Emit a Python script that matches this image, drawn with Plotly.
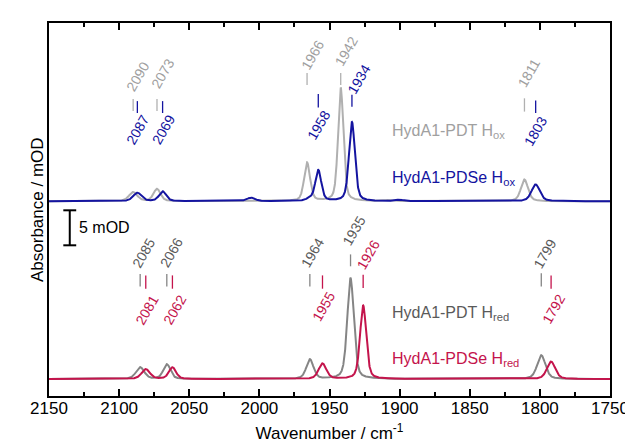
import numpy as np
import plotly.graph_objects as go

# ---------------- data ----------------
# peak positions (cm-1), heights (mOD), FWHM (cm-1)
pdt_ox_pos = [2090, 2073, 1966, 1942, 1908, 1811]
pdt_ox_amp = [1.3, 1.75, 5.5, 16.2, 0.15, 3.1]
pdt_ox_wid = [7, 6, 5, 4.5, 6, 6]

pdse_ox_pos = [2087, 2069, 2006, 1964, 1958, 1934, 1900, 1803]
pdse_ox_amp = [1.2, 1.4, 0.5, 0.3, 4.4, 11.3, 0.2, 2.4]
pdse_ox_wid = [7, 6, 7, 6, 5, 5, 6, 7]

pdt_red_pos = [2085, 2066, 1964, 1935, 1799]
pdt_red_amp = [1.67, 2.1, 2.8, 14.4, 3.4]
pdt_red_wid = [7, 6, 6, 5.5, 7]

pdse_red_pos = [2081, 2062, 1955, 1926, 1792]
pdse_red_amp = [1.4, 1.67, 2.2, 10.5, 2.5]
pdse_red_wid = [7, 6, 6.5, 5.2, 7]

ox_offset = 25.4   # vertical offset of the Hox spectra (mOD)
red_offset = 0.0

# peak labels: wavenumber, label position (mOD), marker bottom/top (mOD), x shift px
pdt_ox_lab = [2090, 2073, 1966, 1942, 1811]
pdt_ox_lab_y = [43.2, 43.7, 46.3, 46.8, 43.7]
pdt_ox_tick = [(38.3, 40.0), (38.3, 40.0), (42.0, 43.7), (42.0, 43.7), (38.2, 40.1)]
pdt_ox_dx = [4, 6, 5.5, 6, 4.5]

pdse_ox_lab = [2087, 2069, 1958, 1934, 1803]
pdse_ox_lab_y = [35.6, 35.6, 36.3, 42.9, 35.4]
pdse_ox_tick = [(38.0, 39.7), (38.0, 39.7), (38.8, 40.7), (38.9, 40.6), (38.0, 39.8)]
pdse_ox_dx = [0, 0.5, 0.5, 7, 0]

pdt_red_lab = [2085, 2066, 1964, 1935, 1799]
pdt_red_lab_y = [18.0, 18.0, 18.0, 21.2, 17.9]
pdt_red_tick = [(13.2, 15.0), (13.2, 15.0), (13.2, 15.0), (16.1, 17.8), (13.2, 15.1)]
pdt_red_dx = [3.5, 4.3, 2.5, 3, 3.3]

pdse_red_lab = [2081, 2062, 1955, 1926, 1792]
pdse_red_lab_y = [9.9, 9.9, 10.4, 17.7, 10.0]
pdse_red_tick = [(12.9, 14.8), (12.9, 14.8), (12.9, 14.8), (13.0, 14.9), (12.9, 14.8)]
pdse_red_dx = [1, 2, 1.5, 5, 2.5]

series_names = ["HydA1-PDT H<sub>ox</sub>", "HydA1-PDSe H<sub>ox</sub>",
                "HydA1-PDT H<sub>red</sub>", "HydA1-PDSe H<sub>red</sub>"]
series_label_x = [1907, 1907, 1907, 1907]
series_label_y = [35.3, 28.7, 9.3, 2.8]

scale_bar_x = 2135.2
scale_bar_y0 = 19.1
scale_bar_len = 5.0

x_ticks = [2150, 2100, 2050, 2000, 1950, 1900, 1850, 1800, 1750]

# ---------------- styles ----------------
C_GRAY_OX = "#b0b0b0"
C_BLUE = "#1414a0"
C_GRAY_RED = "#858585"
C_GRAY_RED_TXT = "#5a5a5a"
C_RED = "#c4144c"
FONT = "Liberation Sans, Arial, Helvetica, sans-serif"

wn = np.linspace(2150, 1750, 4001)


def spectrum(pos, amp, wid, offset):
    y = np.zeros_like(wn)
    for p, a, w in zip(pos, amp, wid):
        s = w / 2.3548
        g = np.exp(-0.5 * ((wn - p) / s) ** 2)
        l = 1.0 / (1.0 + ((wn - p) / (w / 2)) ** 2)
        y += a * (0.6 * g + 0.4 * l)
    return y + offset


fig = go.Figure()

for pos, amp, wid, off, col in [
    (pdt_ox_pos, pdt_ox_amp, pdt_ox_wid, ox_offset, C_GRAY_OX),
    (pdse_ox_pos, pdse_ox_amp, pdse_ox_wid, ox_offset, C_BLUE),
    (pdt_red_pos, pdt_red_amp, pdt_red_wid, red_offset, C_GRAY_RED),
    (pdse_red_pos, pdse_red_amp, pdse_red_wid, red_offset, C_RED),
]:
    fig.add_trace(go.Scatter(x=wn, y=spectrum(pos, amp, wid, off), mode="lines",
                             line=dict(color=col, width=2), hoverinfo="skip",
                             showlegend=False))

annotations = []
for labs, ys, ticks, dxs, col, tcol in [
    (pdt_ox_lab, pdt_ox_lab_y, pdt_ox_tick, pdt_ox_dx, C_GRAY_OX, "#a0a0a0"),
    (pdse_ox_lab, pdse_ox_lab_y, pdse_ox_tick, pdse_ox_dx, C_BLUE, C_BLUE),
    (pdt_red_lab, pdt_red_lab_y, pdt_red_tick, pdt_red_dx, C_GRAY_RED, C_GRAY_RED_TXT),
    (pdse_red_lab, pdse_red_lab_y, pdse_red_tick, pdse_red_dx, C_RED, C_RED),
]:
    tx, ty = [], []
    for w, (a, b) in zip(labs, ticks):
        tx += [w, w, None]
        ty += [a, b, None]
    fig.add_trace(go.Scatter(x=tx, y=ty, mode="lines", line=dict(color=col, width=1.3),
                             hoverinfo="skip", showlegend=False))
    for w, y, dx in zip(labs, ys, dxs):
        annotations.append(dict(x=w, y=y, xref="x", yref="y", text=str(w),
                                textangle=-60, showarrow=False, xshift=dx,
                                font=dict(family=FONT, size=14, color=tcol)))

for name, x, y, col in zip(series_names, series_label_x, series_label_y,
                           ["#a0a0a0", C_BLUE, C_GRAY_RED_TXT, C_RED]):
    annotations.append(dict(x=x, y=y, xref="x", yref="y", text=name, showarrow=False,
                            xanchor="left", yanchor="middle",
                            font=dict(family=FONT, size=16, color=col)))

# scale bar
cap = 4.6
fig.add_trace(go.Scatter(
    x=[scale_bar_x, scale_bar_x, None, scale_bar_x - cap, scale_bar_x + cap, None,
       scale_bar_x - cap, scale_bar_x + cap],
    y=[scale_bar_y0, scale_bar_y0 + scale_bar_len, None, scale_bar_y0, scale_bar_y0, None,
       scale_bar_y0 + scale_bar_len, scale_bar_y0 + scale_bar_len],
    mode="lines", line=dict(color="black", width=2), hoverinfo="skip", showlegend=False))
annotations.append(dict(x=scale_bar_x - 5.5, y=scale_bar_y0 + scale_bar_len / 2, xref="x",
                        yref="y", text="%g mOD" % scale_bar_len, showarrow=False,
                        xanchor="left", yanchor="middle",
                        font=dict(family=FONT, size=16, color="black")))

# y title
annotations.append(dict(x=-0.041, y=0.5, xref="paper", yref="paper",
                        text="Absorbance / mOD", textangle=-90, showarrow=False,
                        font=dict(family=FONT, size=17, color="black")))

# invisible trace for the top axis
fig.add_trace(go.Scatter(x=[2000], y=[0], xaxis="x2", mode="markers",
                         marker=dict(opacity=0), hoverinfo="skip", showlegend=False))

fig.update_layout(
    width=633, height=446,
    margin=dict(l=41, r=23, t=15, b=58),
    plot_bgcolor="white", paper_bgcolor="white",
    font=dict(family=FONT, size=17, color="black"),
    xaxis=dict(range=[2150, 1750], tickvals=x_ticks, ticks="inside", ticklen=7,
               tickwidth=1.5, tickcolor="black", ticklabelstandoff=-4,
               minor=dict(dtick=25, ticks="inside", ticklen=4, tickwidth=1.5,
                          tickcolor="black"),
               showline=True, linewidth=2, linecolor="black", mirror=True,
               showgrid=False, zeroline=False,
               tickfont=dict(family=FONT, size=17),
               title=dict(text="Wavenumber / cm<sup>-1</sup>", standoff=10,
                          font=dict(family=FONT, size=17))),
    xaxis2=dict(range=[2150, 1750], overlaying="x", side="top", tickvals=x_ticks,
                ticks="inside", ticklen=7, tickwidth=1.5, tickcolor="black",
                minor=dict(dtick=25, ticks="inside", ticklen=4, tickwidth=1.5,
                           tickcolor="black"),
                showticklabels=False, showline=False, showgrid=False, zeroline=False),
    yaxis=dict(range=[-2.43, 50.86], showticklabels=False, ticks="", showline=True,
               linewidth=2, linecolor="black", mirror=True, showgrid=False,
               zeroline=False),
    annotations=annotations,
)

fig.write_html("out.html")
